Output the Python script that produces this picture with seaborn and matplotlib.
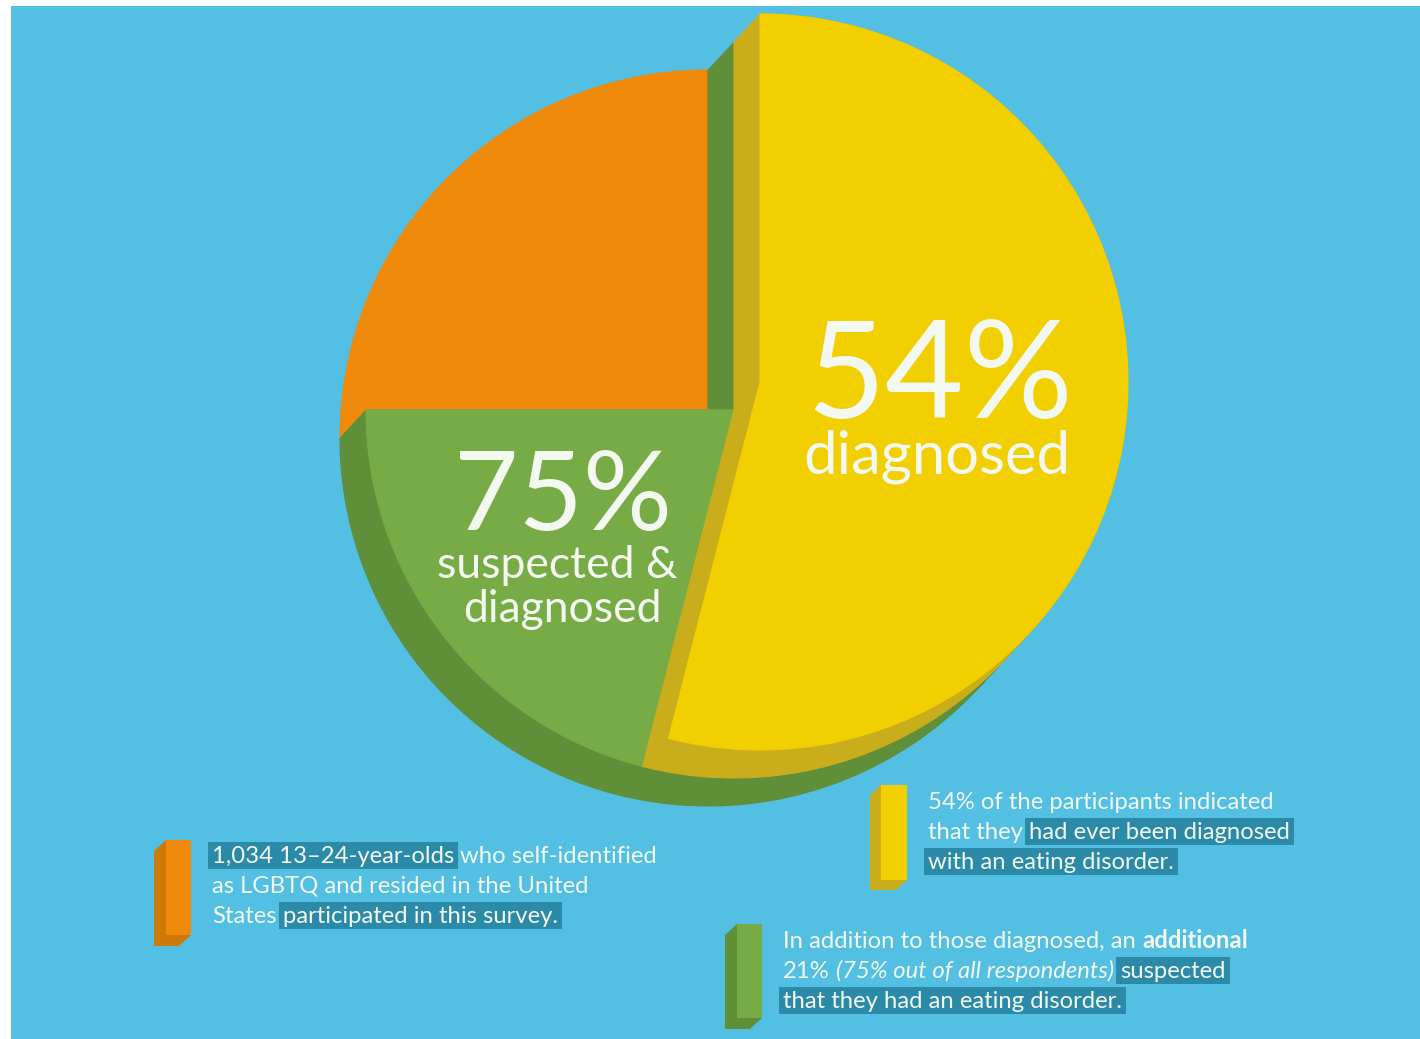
import numpy as np
import matplotlib
matplotlib.use("Agg")
import matplotlib.pyplot as plt
import seaborn as sns
from matplotlib.patches import Rectangle, Polygon

# survey figures (percent of all respondents)
respondents = 1034
pct_suspected_or_diagnosed = 75
pct_diagnosed = 54
slice_names = ["other participants", "suspected", "diagnosed"]
shares = [100 - pct_suspected_or_diagnosed,
          pct_suspected_or_diagnosed - pct_diagnosed,
          pct_diagnosed]
levels = [0, 1, 2]  # how high each slice is lifted

face_colors = ["#f08a0b", "#77ab45", "#f1cf00"]
side_colors = ["#cf790a", "#5f8f38", "#c9ad1b"]
BG = "#52bfe3"
TXT = "#f3f8f1"
HL = "#2b8aa8"

W, H = 1420, 1039


def Y(y):
    # pixel row -> data y
    return H - y


sns.set_theme(style="white")
plt.rcParams["font.family"] = ["Lato", "DejaVu Sans"]

fig = plt.figure(figsize=(W / 100, H / 100), dpi=100, facecolor="white")
ax = fig.add_axes([11 / W, 0, (W - 11) / W, (H - 6) / H])

R = 368
c0 = np.array([708.0, Y(438)])
step = np.array([26.0, 28.0])
n_sub = 30


def draw_pie(center, colors, z):
    wedges, _ = ax.pie(shares, colors=[c if c else "none" for c in colors],
                       startangle=90, counterclock=True, radius=R,
                       center=tuple(center), wedgeprops=dict(linewidth=0.8))
    for w, c in zip(wedges, colors):
        if c is None:
            w.set_visible(False)
        else:
            w.set_edgecolor(c)
        w.set_zorder(z)


# stack the pie: each lift step is a pile of pies in the side colour
z = 1
top = max(levels)
for k in range(top + 1):
    ck = c0 + k * step
    cols = []
    for i, lv in enumerate(levels):
        if lv == k:
            cols.append(face_colors[i])
        elif lv > k:
            cols.append(side_colors[k + 1])
        else:
            cols.append(None)
    draw_pie(ck, cols, z)
    z += 0.01
    if k == top:
        break
    for t in np.linspace(0, 1, n_sub + 1)[1:]:
        cc = ck + t * step
        cols = [side_colors[k + 1] if lv > k else None for lv in levels]
        draw_pie(cc, cols, z)
        z += 0.01

ax.set_frame_on(True)
for s in ax.spines.values():
    s.set_visible(False)
ax.set_facecolor(BG)
ax.set_xlim(11, W)
ax.set_ylim(0, H - 6)
ax.set_aspect("equal")
ax.set_xticks([])
ax.set_yticks([])

# big labels on the pie
big = dict(color=TXT, fontweight="normal", ha="center", va="baseline", zorder=10)
ax.text(940, Y(418), f"{pct_diagnosed}%", fontsize=98, **big)
ax.text(937, Y(474), "diagnosed", fontsize=43, **big)
ax.text(563, Y(530), f"{pct_suspected_or_diagnosed}%", fontsize=80, **big)
ax.text(557, Y(578), "suspected &", fontsize=32, **big)
ax.text(562, Y(622), "diagnosed", fontsize=32, **big)

# 3d legend bars
def bar3d(x0, x1, y0, y1, dx, dy, face, side):
    back = [(x0, Y(y0)), (x0 - dx, Y(y0 + dy)), (x0 - dx, Y(y1 + dy)),
            (x1 - dx, Y(y1 + dy)), (x1, Y(y1)), (x1, Y(y0))]
    ax.add_patch(Polygon(back, closed=True, color=side, lw=0, zorder=6))
    ax.add_patch(Rectangle((x0, Y(y1)), x1 - x0, y1 - y0, color=face, lw=0, zorder=7))


bar3d(166, 191, 840, 935, 12, 11, face_colors[0], side_colors[0])
bar3d(881, 907, 785, 880, 11, 10, face_colors[2], side_colors[2])
bar3d(737, 762, 924, 1018, 12, 11, face_colors[1], side_colors[1])

FS = 17.2
renderer = fig.canvas.get_renderer()


def text_w(s, **kw):
    t = ax.text(0, 0, s, fontsize=FS, **kw)
    w = t.get_window_extent(renderer).width
    t.remove()
    return w


space_w = text_w("n n") - text_w("nn")


def draw_line(x, base, parts):
    for s, hl, kw in parts:
        t = ax.text(x, Y(base), s, fontsize=FS, color=TXT, ha="left",
                    va="baseline", zorder=9, **kw)
        w = t.get_window_extent(renderer).width
        if hl:
            ax.add_patch(Rectangle((x - 4, Y(base) - 6), w + 8, 27,
                                   color=HL, lw=0, zorder=8))
        x += w + space_w


plain = {}
bold = dict(fontweight="bold")
ital = dict(fontstyle="italic")

draw_line(212, 863, [(f"{respondents:,} 13–24-year-olds", True, plain),
                     ("who self-identified", False, plain)])
draw_line(212, 893, [("as LGBTQ and resided in the United", False, plain)])
draw_line(212, 923, [("States", False, plain),
                     ("participated in this survey.", True, plain)])

draw_line(928, 809, [(f"{pct_diagnosed}% of the participants indicated", False, plain)])
draw_line(928, 839, [("that they", False, plain),
                     ("had ever been diagnosed", True, plain)])
draw_line(928, 869, [("with an eating disorder.", True, plain)])

draw_line(783, 948, [("In addition to those diagnosed, an", False, plain),
                     ("additional", False, bold)])
draw_line(783, 978, [(f"{shares[1]}%", False, plain),
                     (f"({pct_suspected_or_diagnosed}% out of all respondents)", False, ital),
                     ("suspected", True, plain)])
draw_line(783, 1008, [("that they had an eating disorder.", True, plain)])

fig.savefig("out.png", dpi=100, facecolor="white")
